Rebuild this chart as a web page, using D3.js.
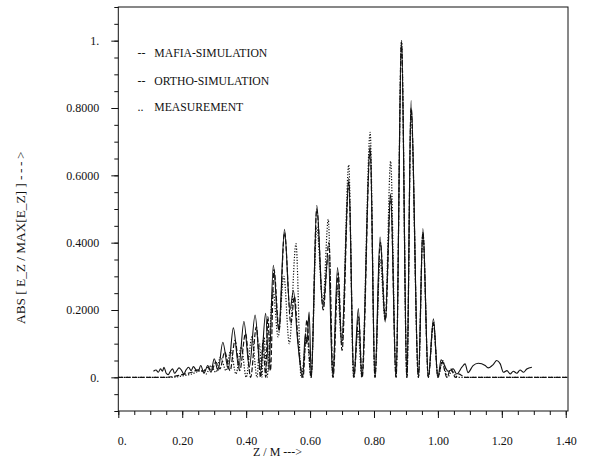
<!DOCTYPE html>
<html><head><meta charset="utf-8">
<script src="https://cdn.jsdelivr.net/npm/d3@7"></script>
<style>
body{margin:0;background:#fff;}
svg text{font-family:"Liberation Serif","Tinos","Times New Roman","Nimbus Roman","DejaVu Serif",serif !important;fill:#111;}
</style></head>
<body><svg id="c" width="592" height="459"></svg>
<script>
// ---- data ----
const xTickValues = [0,0.2,0.4,0.6,0.8,1.0,1.2,1.4];
const xTickLabels = ["0.","0.20","0.40","0.60","0.80","1.00","1.20","1.40"];
const yTickValues = [0,0.2,0.4,0.6,0.8,1.0];
const yTickLabels = ["0.","0.2000","0.4000","0.6000","0.8000","1."];
const seriesNames = ["MAFIA-SIMULATION","ORTHO-SIMULATION","MEASUREMENT"];
const legendMarks = ["--","--",".."];

// z [m], |Ez|/max
const measZ = [0.110,0.118,0.125,0.132,0.138,0.143,0.150,0.156,0.163,0.170,0.176,0.183,0.190,0.197,0.205,0.212,0.220,0.228,0.235,0.243,0.250,0.258,0.268,0.280,0.290,0.300,0.312,0.327,0.344,0.360,0.377,0.393,0.410,0.428,0.445,0.461,0.471,0.485,0.502,0.520,0.537,0.548,0.560,0.577,0.585,0.590,0.597,0.604,0.621,0.640,0.657,0.671,0.686,0.699,0.721,0.737,0.751,0.762,0.788,0.803,0.819,0.835,0.852,0.869,0.886,0.903,0.916,0.939,0.953,0.970,0.986,1.000,1.010,1.032,1.048,1.059,1.075,1.085,1.094,1.110,1.126,1.148,1.157,1.173,1.184,1.195,1.205,1.216,1.226,1.236,1.247,1.257,1.268,1.278,1.294];
const measV = [0.018,0.022,0.015,0.025,0.018,0.030,0.012,0.008,0.018,0.025,0.012,0.020,0.028,0.022,0.010,0.022,0.030,0.020,0.032,0.022,0.018,0.035,0.012,0.035,0.015,0.055,0.020,0.104,0.025,0.147,0.030,0.166,0.030,0.185,0.020,0.190,0.020,0.333,0.140,0.440,0.200,0.258,0.120,0.000,0.130,0.100,0.194,0.000,0.511,0.208,0.362,0.000,0.326,0.104,0.591,0.000,0.204,0.000,0.690,0.000,0.417,0.164,0.546,0.000,1.000,0.000,0.822,0.000,0.442,0.000,0.174,0.000,0.052,0.018,0.025,0.010,0.030,0.040,0.014,0.035,0.042,0.035,0.028,0.038,0.050,0.040,0.015,0.020,0.010,0.018,0.012,0.022,0.015,0.025,0.030];

const mafiaZ = [0.00,0.15,0.17,0.20,0.23,0.25,0.265,0.28,0.292,0.305,0.318,0.333,0.350,0.365,0.380,0.398,0.414,0.432,0.445,0.453,0.461,0.468,0.476,0.487,0.503,0.520,0.540,0.551,0.563,0.578,0.590,0.603,0.621,0.641,0.659,0.672,0.688,0.700,0.721,0.737,0.752,0.763,0.788,0.803,0.820,0.836,0.852,0.869,0.886,0.903,0.916,0.939,0.953,0.970,0.986,1.000,1.013,1.028,1.040,1.055,1.065,1.085,1.407];
const mafiaV = [0,0,0.002,0.008,0.015,0.022,0.018,0.030,0.020,0.045,0.025,0.075,0.020,0.110,0.020,0.130,0.000,0.150,0.000,0.110,0.000,0.180,0.020,0.320,0.139,0.430,0.160,0.240,0.100,0.000,0.170,0.000,0.500,0.200,0.400,0.000,0.310,0.080,0.580,0.000,0.180,0.000,0.680,0.000,0.400,0.170,0.540,0.000,0.995,0.000,0.800,0.000,0.430,0.000,0.160,0.000,0.045,0.000,0.025,0.000,0.010,0.000,0];

const orthoZ = [0.00,0.17,0.20,0.23,0.26,0.275,0.29,0.305,0.32,0.337,0.352,0.368,0.385,0.400,0.418,0.434,0.442,0.449,0.456,0.465,0.484,0.500,0.518,0.535,0.556,0.572,0.590,0.603,0.621,0.640,0.657,0.671,0.685,0.699,0.721,0.736,0.750,0.762,0.788,0.803,0.819,0.835,0.852,0.869,0.886,0.903,0.916,0.939,0.953,0.970,0.986,1.000,1.015,1.030,1.045,1.060,1.407];
const orthoV = [0,0,0.004,0.010,0.020,0.010,0.035,0.015,0.060,0.020,0.080,0.010,0.090,0.000,0.120,0.000,0.100,0.000,0.120,0.000,0.260,0.120,0.300,0.100,0.397,0.000,0.120,0.000,0.447,0.220,0.469,0.000,0.270,0.100,0.631,0.000,0.140,0.000,0.728,0.000,0.350,0.170,0.642,0.000,1.000,0.000,0.790,0.000,0.430,0.000,0.165,0.000,0.050,0.000,0.020,0.000,0];

// ---- chart ----
const svg = d3.select("#c");
const x = d3.scaleLinear().domain([0,1.407]).range([118.3,568]);
const y = d3.scaleLinear().domain([-0.1,1.1]).range([411,7]);
const FF = "'Liberation Serif','Tinos','Times New Roman','Nimbus Roman','DejaVu Serif',serif";
const fs = "12px";

// frame
svg.append("rect").attr("x",x(0)).attr("y",y(1.1)).attr("width",x(1.407)-x(0)).attr("height",y(-0.1)-y(1.1))
  .attr("fill","none").attr("stroke","#111").attr("stroke-width",1);

// minor ticks
const xMinor = d3.range(0,1.4001,0.05);
const yMinor = d3.range(-0.1,1.1001,0.05);
svg.append("g").attr("transform",`translate(0,${y(-0.1)})`)
  .call(d3.axisBottom(x).tickValues(xMinor).tickSize(4).tickSizeOuter(0).tickFormat(""))
  .call(g=>g.select(".domain").remove());
svg.append("g").attr("transform",`translate(${x(0)},0)`)
  .call(d3.axisLeft(y).tickValues(yMinor).tickSize(4).tickSizeOuter(0).tickFormat(""))
  .call(g=>g.select(".domain").remove());

// major ticks
const gx = svg.append("g").attr("transform",`translate(0,${y(-0.1)})`)
  .call(d3.axisBottom(x).tickValues(xTickValues).tickSize(7).tickSizeOuter(0).tickPadding(18)
  .tickFormat((d,i)=>xTickLabels[i]));
gx.attr("font-family",FF).attr("font-size",12);
gx.select(".domain").remove();
gx.selectAll(".tick").filter((d,i)=>i===0).select("text").attr("dx","3.5");
const gy = svg.append("g").attr("transform",`translate(${x(0)},0)`)
  .call(d3.axisLeft(y).tickValues(yTickValues).tickSize(7).tickSizeOuter(0).tickPadding(12)
  .tickFormat((d,i)=>yTickLabels[i]));
gy.attr("font-family",FF).attr("font-size",12);
gy.select(".domain").remove();
svg.selectAll(".tick line").attr("stroke","#111");

// axis titles
svg.append("text").attr("x",253).attr("y",456).attr("font-family",FF).style("font-size","12px").text("Z / M --->");
const yt = svg.append("text").attr("transform","translate(25,236.5) rotate(-90)").attr("text-anchor","middle")
  .attr("font-family",FF).style("font-size","13.3px");
yt.append("tspan").text("ABS [ E_Z / MAX[E_Z] ]  ");
yt.append("tspan").attr("letter-spacing","2.5px").text("--->");

// curves
const line = d3.line().x(d=>x(d[0])).y(d=>y(d[1])).curve(d3.curveMonotoneX);
const mk = (Z,V)=>Z.map((z,i)=>[z,V[i]]);
const curves = [
  {name:seriesNames[0], pts:mk(mafiaZ,mafiaV), dash:"5,2", w:1.2},
  {name:seriesNames[1], pts:mk(orthoZ,orthoV), dash:"1.2,1.6", w:1.2},
  {name:seriesNames[2], pts:mk(measZ,measV), dash:null, w:1.1}
];
curves.forEach(c=>{
  svg.append("path").attr("d",line(c.pts)).attr("fill","none").attr("stroke","#111")
    .attr("stroke-width",c.w).attr("stroke-dasharray",c.dash).attr("stroke-linejoin","round");
});

// legend
const legY = [57,84.5,111];
seriesNames.forEach((n,i)=>{
  svg.append("text").attr("x",137.5).attr("y",legY[i]).attr("font-family",FF).style("font-size",fs).text(legendMarks[i]);
  svg.append("text").attr("x",154.3).attr("y",legY[i]).attr("font-family",FF).style("font-size","11.7px").text(n);
});
</script></body></html>
